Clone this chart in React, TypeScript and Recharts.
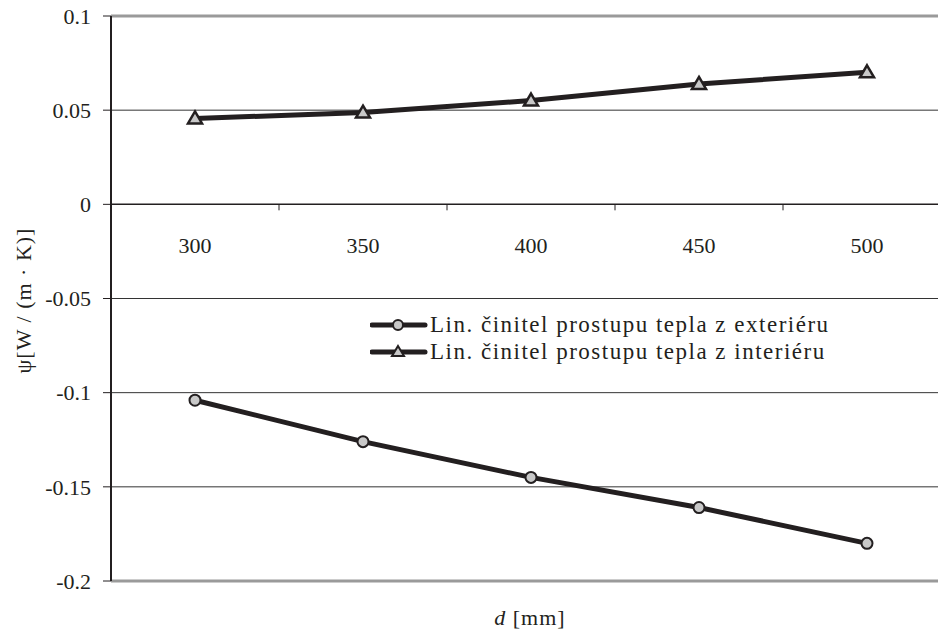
import React from "react";
import {
  LineChart,
  Line,
  XAxis,
  YAxis,
  CartesianGrid,
  ReferenceLine,
} from "recharts";

const thickness = ["300", "350", "400", "450", "500"];
const exterior = [-0.104, -0.126, -0.145, -0.161, -0.18];
const interior = [0.0456, 0.0487, 0.0551, 0.0639, 0.0701];
const yTicks = [-0.2, -0.15, -0.1, -0.05, 0, 0.05, 0.1];
const seriesNames = [
  "Lin. činitel prostupu tepla z exteriéru",
  "Lin. činitel prostupu tepla z interiéru",
];

const data = thickness.map((d, i) => ({
  d,
  ext: exterior[i],
  int: interior[i],
}));

const W = 951;
const H = 637;
const TOP = 16;
const BOTTOM = 56;
const LEFT = 111;
const PLOT_H = H - TOP - BOTTOM;
const BAND = (W - LEFT) / thickness.length;
const Y_MIN = -0.2;
const Y_MAX = 0.1;
const zeroY = TOP + (PLOT_H * Y_MAX) / (Y_MAX - Y_MIN);

const FONT = "'Liberation Serif', 'DejaVu Serif', serif";
const INK = "#231f20";
const MARK = "#c8c8c8";

const Triangle = (props: any) => {
  const { cx, cy } = props;
  if (cx == null || cy == null) return null;
  return (
    <path
      d={`M${cx},${cy - 7} L${cx + 7},${cy + 5} L${cx - 7},${cy + 5} Z`}
      fill={MARK}
      stroke={INK}
      strokeWidth={2.5}
    />
  );
};

const Circle = (props: any) => {
  const { cx, cy } = props;
  if (cx == null || cy == null) return null;
  return <circle cx={cx} cy={cy} r={5.5} fill={MARK} stroke={INK} strokeWidth={2} />;
};

// category labels sit under the zero line, not at the bottom of the plot
const CatTick = (props: any) => {
  const { x, payload } = props;
  return (
    <g>
      <line
        x1={x - BAND / 2}
        x2={x - BAND / 2}
        y1={zeroY}
        y2={zeroY + 6}
        stroke={INK}
        strokeWidth={1}
      />
      <text
        x={x}
        y={zeroY + 49}
        textAnchor="middle"
        fontFamily={FONT}
        fontSize={22}
        fill={INK}
      >
        {payload.value}
      </text>
    </g>
  );
};

const LegendBox = () => {
  const row = (i: number) => (
    <div key={i} style={{ display: "flex", alignItems: "center", height: 27 }}>
      <svg width={58} height={16} style={{ marginRight: 2 }}>
        <line x1={2} x2={55} y1={8} y2={8} stroke={INK} strokeWidth={5} strokeLinecap="round" />
        {i === 0 ? (
          <circle cx={28} cy={8} r={5} fill={MARK} stroke={INK} strokeWidth={2} />
        ) : (
          <path d="M28,2 L34,12 L22,12 Z" fill={MARK} stroke={INK} strokeWidth={2} />
        )}
      </svg>
      <span style={{ fontFamily: FONT, fontSize: 23, letterSpacing: 1.5, color: INK, whiteSpace: "nowrap" }}>
        {seriesNames[i]}
      </span>
    </div>
  );
  return (
    <div style={{ position: "absolute", left: 370, top: 311 }}>{[0, 1].map(row)}</div>
  );
};

export default function App() {
  return (
    <div
      style={{
        position: "relative",
        margin: -8,
        width: 946,
        height: H,
        overflow: "hidden",
        background: "#fff",
      }}
    >
      <LineChart
        width={W}
        height={H}
        data={data}
        margin={{ top: TOP, right: 0, bottom: 0, left: 0 }}
      >
        <CartesianGrid
          horizontal
          vertical={false}
          horizontalValues={[0.05, -0.05, -0.1, -0.15]}
          stroke="#333"
          strokeWidth={1}
        />
        <ReferenceLine y={Y_MAX} stroke="#9a9a9a" strokeWidth={3} />
        <ReferenceLine y={Y_MIN} stroke="#9a9a9a" strokeWidth={3} />
        <ReferenceLine y={0} stroke={INK} strokeWidth={1.5} />
        <XAxis
          dataKey="d"
          height={BOTTOM}
          padding={{ left: BAND / 2, right: BAND / 2 }}
          axisLine={false}
          tickLine={false}
          tick={<CatTick />}
          interval={0}
          label={{
            content: () => (
              <text
                x={LEFT + 419}
                y={TOP + PLOT_H + 44}
                textAnchor="middle"
                fontFamily={FONT}
                fontSize={22}
                letterSpacing={1}
                fill={INK}
              >
                <tspan fontStyle="italic">d</tspan>
                <tspan>{"  [mm]"}</tspan>
              </text>
            ),
          }}
        />
        <YAxis
          width={LEFT}
          type="number"
          domain={[Y_MIN, Y_MAX]}
          ticks={yTicks}
          interval={0}
          tickSize={8}
          tickMargin={12}
          axisLine={{ stroke: INK, strokeWidth: 2 }}
          tickLine={{ stroke: INK, strokeWidth: 1 }}
          tick={{ fontFamily: FONT, fontSize: 22, fill: INK }}
          label={{
            content: () => (
              <text
                x={0}
                y={0}
                transform={`translate(31, ${TOP + PLOT_H / 2 + 2}) rotate(-90)`}
                textAnchor="middle"
                fontFamily={FONT}
                fontSize={22}
                letterSpacing={1}
                fill={INK}
              >
                ψ[W / (m · K)]
              </text>
            ),
          }}
        />
        <Line
          dataKey="ext"
          name={seriesNames[0]}
          stroke={INK}
          strokeWidth={5}
          dot={<Circle />}
          activeDot={false}
          isAnimationActive={false}
        />
        <Line
          dataKey="int"
          name={seriesNames[1]}
          stroke={INK}
          strokeWidth={5}
          dot={<Triangle />}
          activeDot={false}
          isAnimationActive={false}
        />
      </LineChart>
      <LegendBox />
    </div>
  );
}
